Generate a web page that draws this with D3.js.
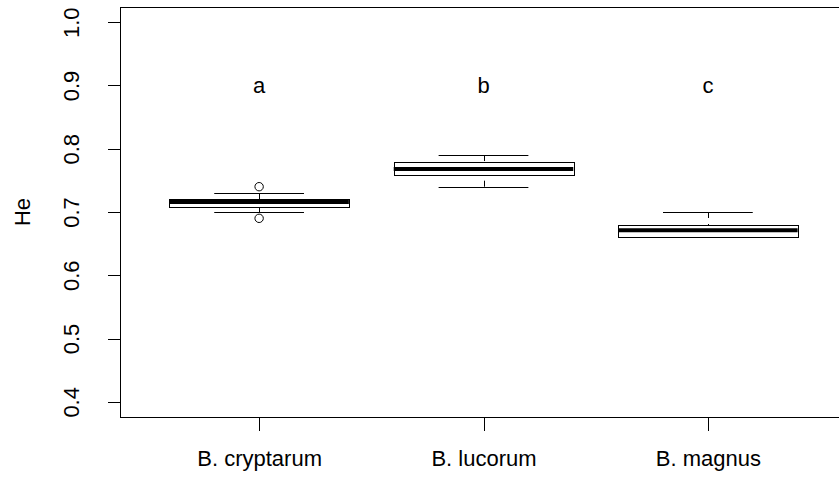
<!DOCTYPE html>
<html>
<head>
<meta charset="utf-8">
<script src="https://cdn.jsdelivr.net/npm/d3@7"></script>
<style>
  html, body { margin: 0; padding: 0; background: #fff; }
  svg { display: block; font-family: "Liberation Sans", Arial, sans-serif; }
</style>
</head>
<body>
<svg id="chart" width="839" height="477"></svg>
<script>
// Expected heterozygosity (He) per species, summarised as box-plot statistics
const species = ["B. cryptarum", "B. lucorum", "B. magnus"];
const lowerWhisker = [0.700, 0.740, 0.661];
const lowerQuartile = [0.708, 0.759, 0.661];
const medians = [0.716, 0.768, 0.671];
const upperQuartile = [0.720, 0.779, 0.679];
const upperWhisker = [0.730, 0.790, 0.700];
const outliers = [[0.74, 0.69], [], []];
const groupLetters = ["a", "b", "c"];
const letterLevel = 0.9;
const yTicks = [0.4, 0.5, 0.6, 0.7, 0.8, 0.9, 1.0];

const svg = d3.select("#chart");
const fontSize = 22;

// Plot region (box frame) and scales with 4% padding on each side
const x = d3.scaleLinear().domain([0.38, 3.62]).range([120, 847]);
const y = d3.scaleLinear().domain([0.376, 1.024]).range([417, 7]);
const unit = x(1) - x(0);
const boxHalf = 0.4 * unit;
const stapleHalf = 0.2 * unit;

// Frame
svg.append("rect")
  .attr("x", x(0.38) + 0.5).attr("y", y(1.024) + 0.5)
  .attr("width", x(3.62) - x(0.38)).attr("height", y(0.376) - y(1.024))
  .attr("fill", "none").attr("stroke", "#000").attr("stroke-width", 1);

// Y axis
const yAxis = svg.append("g")
  .attr("transform", `translate(${x(0.38) + 0.5},0)`)
  .call(d3.axisLeft(y).tickValues(yTicks).tickSize(13).tickFormat(d3.format(".1f")));
yAxis.select(".domain").remove();
yAxis.selectAll(".tick line").attr("stroke", "#000").attr("shape-rendering", "crispEdges");
yAxis.selectAll(".tick text")
  .attr("x", null).attr("dy", null)
  .attr("text-anchor", "middle")
  .attr("transform", "translate(-42,0) rotate(-90)")
  .attr("fill", "#000")
  .style("font-size", fontSize + "px")
  .style("font-family", "'Liberation Sans', Arial, sans-serif");

// X axis (ticks at each group, no axis line)
const xAxis = svg.append("g")
  .attr("transform", `translate(0,${y(0.376) + 0.5})`)
  .call(d3.axisBottom(x).tickValues([1, 2, 3]).tickSize(13)
    .tickFormat((d, i) => species[i]));
xAxis.select(".domain").remove();
xAxis.selectAll(".tick line").attr("stroke", "#000").attr("shape-rendering", "crispEdges");
xAxis.selectAll(".tick text")
  .attr("y", 48.5).attr("dy", null)
  .attr("fill", "#000")
  .style("font-size", fontSize + "px")
  .style("font-family", "'Liberation Sans', Arial, sans-serif");

// Y axis title
svg.append("text")
  .attr("transform", `translate(30,${y(0.7)}) rotate(-90)`)
  .attr("text-anchor", "middle")
  .style("font-size", fontSize + "px")
  .text("He");

// Box plots
const groups = svg.append("g").selectAll("g")
  .data(species.map((s, i) => ({
    pos: i + 1, lo: lowerWhisker[i], q1: lowerQuartile[i], med: medians[i],
    q3: upperQuartile[i], hi: upperWhisker[i], out: outliers[i]
  })))
  .join("g");

// Dashed whisker stems, drawn from whisker end towards the box
groups.selectAll("line.stem")
  .data(d => [[d.lo, d.q1], [d.hi, d.q3]].map(p => ({ pos: d.pos, from: p[0], to: p[1] })))
  .join("line")
  .attr("class", "stem")
  .attr("x1", d => Math.round(x(d.pos)) + 0.5).attr("x2", d => Math.round(x(d.pos)) + 0.5)
  .attr("y1", d => y(d.from)).attr("y2", d => y(d.to))
  .attr("stroke", "#000").attr("stroke-width", 1)
  .attr("stroke-dasharray", "6,6");

// Staples
groups.selectAll("line.staple")
  .data(d => [d.lo, d.hi].map(v => ({ pos: d.pos, v })))
  .join("line")
  .attr("class", "staple")
  .attr("x1", d => x(d.pos) - stapleHalf).attr("x2", d => x(d.pos) + stapleHalf)
  .attr("y1", d => Math.round(y(d.v)) + 0.5).attr("y2", d => Math.round(y(d.v)) + 0.5)
  .attr("stroke", "#000").attr("stroke-width", 1);

// Boxes
groups.append("rect")
  .attr("x", d => Math.round(x(d.pos) - boxHalf) + 0.5)
  .attr("y", d => Math.round(y(d.q3)) + 0.5)
  .attr("width", Math.round(2 * boxHalf))
  .attr("height", d => Math.round(y(d.q1)) - Math.round(y(d.q3)))
  .attr("fill", "#fff").attr("stroke", "#000").attr("stroke-width", 1);

// Medians
groups.append("line")
  .attr("x1", d => x(d.pos) - boxHalf).attr("x2", d => x(d.pos) + boxHalf)
  .attr("y1", d => y(d.med)).attr("y2", d => y(d.med))
  .attr("stroke", "#000").attr("stroke-width", 4);

// Outliers
groups.selectAll("circle")
  .data(d => d.out.map(v => ({ pos: d.pos, v })))
  .join("circle")
  .attr("cx", d => x(d.pos)).attr("cy", d => y(d.v))
  .attr("r", 4.2)
  .attr("fill", "none").attr("stroke", "#000").attr("stroke-width", 1);

// Significance group letters
svg.append("g").selectAll("text")
  .data(groupLetters)
  .join("text")
  .attr("x", (d, i) => x(i + 1))
  .attr("y", y(letterLevel) + 8)
  .attr("text-anchor", "middle")
  .style("font-size", fontSize + "px")
  .text(d => d);
</script>
</body>
</html>
